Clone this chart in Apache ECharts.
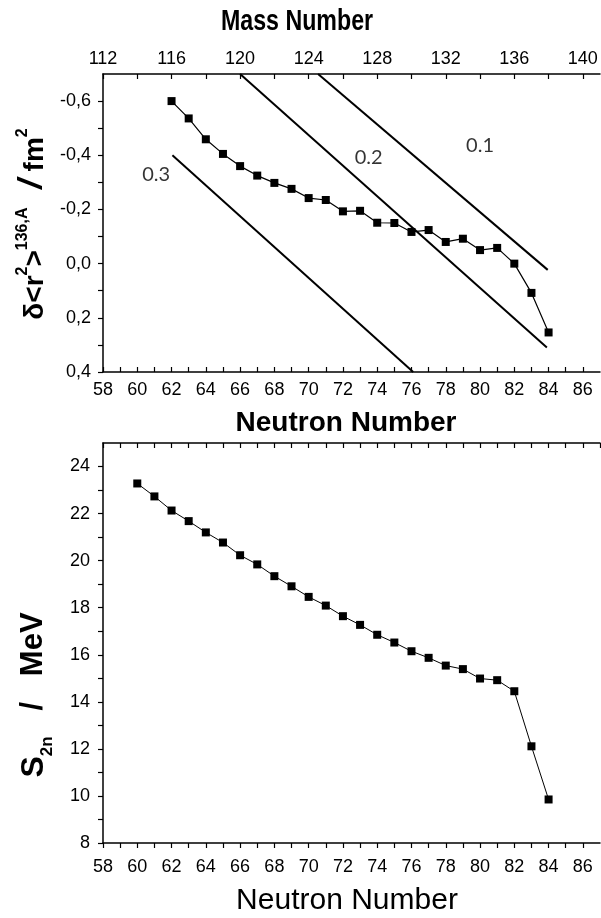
<!DOCTYPE html>
<html>
<head>
<meta charset="utf-8">
<script src="https://cdn.jsdelivr.net/npm/echarts@6/dist/echarts.min.js"></script>
<style>
  html, body { margin: 0; padding: 0; background: #fff; }
  #main { width: 601px; height: 918px; }
</style>
</head>
<body>
<div id="main"></div>
<script>
// top panel: change of mean square charge radius vs neutron number
const neutronTop = [62, 63, 64, 65, 66, 67, 68, 69, 70, 71, 72, 73, 74, 75, 76, 77, 78, 79, 80, 81, 82, 83, 84];
const dr2 = [-0.60, -0.536, -0.459, -0.405, -0.360, -0.325, -0.298, -0.276, -0.242, -0.235, -0.193, -0.195,
  -0.151, -0.150, -0.117, -0.124, -0.080, -0.092, -0.050, -0.058, 0.000, 0.108, 0.254];

// straight reference lines with their labels
const isoLabels = ['0.3', '0.2', '0.1'];
const isoStart = [[62.05, -0.40], [66.0, -0.70], [70.55, -0.70]];
const isoEnd = [[76.1, 0.40], [83.9, 0.31], [83.95, 0.023]];
const isoLabelPos = [[61.1, -0.33], [73.5, -0.39], [80.0, -0.435]];

// bottom panel: two-neutron separation energy
const neutronBottom = [60, 61, 62, 63, 64, 65, 66, 67, 68, 69, 70, 71, 72, 73, 74, 75, 76, 77, 78, 79, 80, 81, 82, 83, 84];
const s2n = [23.28, 22.73, 22.13, 21.68, 21.20, 20.77, 20.23, 19.84, 19.34, 18.91, 18.46, 18.09, 17.64, 17.27,
  16.85, 16.52, 16.15, 15.87, 15.54, 15.39, 14.99, 14.92, 14.45, 12.11, 9.85];

const chart = echarts.init(document.getElementById('main'), null, { renderer: 'canvas' });

const tickFont = { fontFamily: 'Liberation Sans, Arial, sans-serif', fontSize: 18, color: '#000' };
const axLine = { show: true, onZero: false, lineStyle: { color: '#000', width: 1.5 } };
const tickStyle = { color: '#000', width: 1.2 };

function evenLabel(v) {
  return Math.round(v) % 2 === 0 && v < 87 ? String(Math.round(v)) : '';
}

const isoSeries = isoLabels.map(function (lab, i) {
  return {
    name: 'iso ' + lab,
    type: 'line',
    xAxisIndex: 0, yAxisIndex: 0,
    data: [isoStart[i], isoEnd[i]],
    symbol: 'none',
    lineStyle: { color: '#000', width: 2 },
    silent: true
  };
});

let option = {
  animation: false,
  backgroundColor: '#fff',
  grid: [
    { left: 103, top: 74, width: 497, height: 298 },
    { left: 103, top: 443, width: 497, height: 400 }
  ],
  xAxis: [
    {
      gridIndex: 0, type: 'value', position: 'bottom', min: 58, max: 87, interval: 1,
      axisLine: axLine,
      axisTick: { show: true, inside: true, length: 5, lineStyle: tickStyle },
      axisLabel: Object.assign({ margin: 9, formatter: evenLabel, showMaxLabel: false }, tickFont),
      splitLine: { show: false }
    },
    {
      gridIndex: 0, type: 'value', position: 'top', min: 112, max: 141, interval: 2,
      axisLine: axLine,
      axisTick: { show: true, inside: true, length: 5, lineStyle: tickStyle },
      axisLabel: Object.assign({
        margin: 6, showMaxLabel: false,
        formatter: function (v) { return (Math.round(v) % 4 === 0 && v < 141) ? String(Math.round(v)) : ''; }
      }, tickFont),
      splitLine: { show: false }
    },
    {
      gridIndex: 1, type: 'value', position: 'bottom', min: 58, max: 87, interval: 1,
      axisLine: axLine,
      axisTick: { show: true, inside: false, length: 5, lineStyle: tickStyle },
      axisLabel: Object.assign({ margin: 15, formatter: evenLabel, showMaxLabel: false }, tickFont),
      splitLine: { show: false }
    },
    {
      gridIndex: 1, type: 'value', position: 'top', min: 58, max: 87, interval: 1,
      axisLine: axLine,
      axisTick: { show: true, inside: true, length: 5, lineStyle: tickStyle },
      axisLabel: { show: false },
      splitLine: { show: false }
    }
  ],
  yAxis: [
    {
      gridIndex: 0, type: 'value', inverse: true, min: -0.7, max: 0.4, interval: 0.1,
      axisLine: axLine,
      axisTick: { show: true, inside: false, length: 5, lineStyle: tickStyle },
      axisLabel: Object.assign({
        margin: 12, showMinLabel: false,
        formatter: function (v) {
          const k = Math.round(v * 10);
          return k % 2 === 0 ? (k / 10).toFixed(1).replace('.', ',') : '';
        }
      }, tickFont),
      splitLine: { show: false }
    },
    {
      gridIndex: 1, type: 'value', min: 8, max: 25, interval: 1,
      axisLine: axLine,
      axisTick: { show: true, inside: false, length: 5, lineStyle: tickStyle },
      axisLabel: Object.assign({
        margin: 13, showMaxLabel: false,
        formatter: function (v) { return Math.round(v) % 2 === 0 && v < 25 ? String(Math.round(v)) : ''; }
      }, tickFont),
      splitLine: { show: false }
    }
  ],
  series: isoSeries.concat([
    {
      name: 'iso labels',
      type: 'scatter',
      xAxisIndex: 0, yAxisIndex: 0,
      symbolSize: 0,
      data: isoLabelPos.map(function (p, i) { return { value: p, name: isoLabels[i] }; }),
      label: {
        show: true, position: 'inside', formatter: '{b}',
        fontFamily: 'Lato, DejaVu Sans, sans-serif', fontSize: 20, color: '#000'
      },
      silent: true
    },
    {
      name: 'dr2',
      type: 'line',
      xAxisIndex: 0, yAxisIndex: 0,
      data: neutronTop.map(function (n, i) { return [n, dr2[i]]; }),
      symbol: 'rect', symbolSize: 8,
      itemStyle: { color: '#000' },
      lineStyle: { color: '#000', width: 1.2 }
    },
    {
      name: 'S2n',
      type: 'line',
      xAxisIndex: 2, yAxisIndex: 1,
      data: neutronBottom.map(function (n, i) { return [n, s2n[i]]; }),
      symbol: 'rect', symbolSize: 8,
      itemStyle: { color: '#000' },
      lineStyle: { color: '#000', width: 1 }
    }
  ]),
  graphic: [
    {
      type: 'text', x: 297, y: 22, scaleX: 0.8,
      style: {
        text: 'Mass Number', align: 'center', verticalAlign: 'middle',
        font: 'bold 29px "Liberation Sans", Arial, sans-serif', fill: '#000'
      }
    },
    {
      type: 'text', x: 346, y: 423,
      style: {
        text: 'Neutron Number', align: 'center', verticalAlign: 'middle',
        font: 'bold 28px "Liberation Sans", Arial, sans-serif', fill: '#000'
      }
    },
    {
      type: 'text', x: 347, y: 901,
      style: {
        text: 'Neutron Number', align: 'center', verticalAlign: 'middle',
        font: '30px "Liberation Sans", Arial, sans-serif', fill: '#000'
      }
    },
    {
      type: 'text', x: 32, y: 224, rotation: Math.PI / 2,
      style: {
        text: '{m|δ<r}{s|2}{m|>}{s|136,A}{sl|  /}{m| fm}{s|2}',
        align: 'center', verticalAlign: 'middle', fill: '#000',
        rich: {
          m: { fontFamily: 'Liberation Sans, Arial', fontWeight: 'bold', fontSize: 28, lineHeight: 34, verticalAlign: 'bottom' },
          s: { fontFamily: 'Liberation Sans, Arial', fontWeight: 'bold', fontSize: 16, lineHeight: 16, verticalAlign: 'top' },
          sl: { fontFamily: 'Liberation Sans, Arial', fontWeight: 'bold', fontStyle: 'italic', fontSize: 34, lineHeight: 34, verticalAlign: 'bottom' }
        }
      }
    },
    {
      type: 'text', x: 37, y: 695, rotation: Math.PI / 2,
      style: {
        text: '{m|S}{sub|2n}{n|   /   MeV}',
        align: 'center', verticalAlign: 'middle', fill: '#000',
        rich: {
          m: { fontFamily: 'Liberation Sans, Arial', fontWeight: 'bold', fontSize: 32, lineHeight: 38, verticalAlign: 'top' },
          sub: { fontFamily: 'Liberation Sans, Arial', fontWeight: 'bold', fontSize: 17, lineHeight: 17, verticalAlign: 'bottom' },
          n: { fontFamily: 'Liberation Sans, Arial', fontWeight: 'bold', fontSize: 31, lineHeight: 38, verticalAlign: 'top' }
        }
      }
    }
  ]
};

chart.setOption(option);
</script>
</body>
</html>
